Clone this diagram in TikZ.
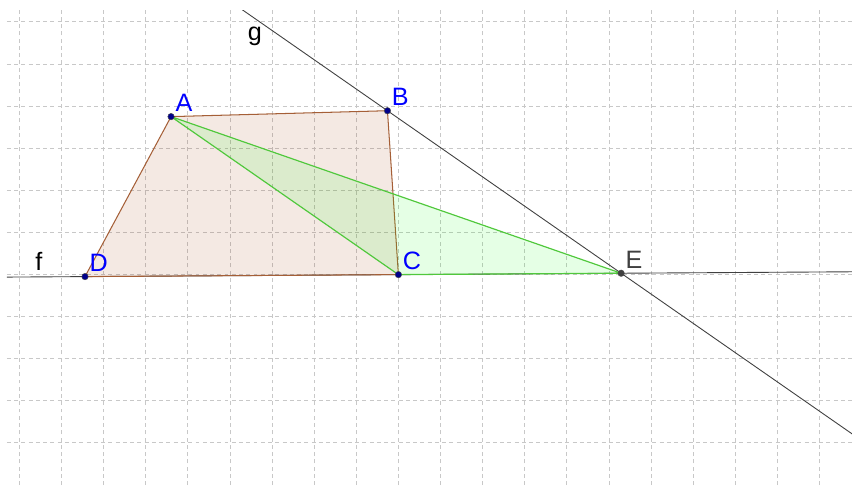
\documentclass[tikz,border=0pt]{standalone}
\usepackage{fontspec}
\setmainfont{Liberation Sans}
\usepackage{xcolor}
\usepackage{tikz}
\usetikzlibrary{positioning, calc}
\definecolor{quadbrown}{RGB}{153,51,0}
\definecolor{quadedge}{RGB}{165,95,55}
\definecolor{trigreen}{RGB}{0,255,0}
\definecolor{triedge}{RGB}{80,200,60}
\definecolor{ptblue}{RGB}{0,0,140}
\definecolor{lblblue}{RGB}{0,0,255}
\definecolor{gridgray}{RGB}{200,200,200}

\begin{document}
\begin{tikzpicture}[
    % 网格与直线
    gridline/.style={draw=gridgray, line width=0.55pt, dash pattern=on 2.7pt off 2.2pt},
    figline/.style={draw=black!75, line width=0.6pt},
    % 四边形与三角形
    quad/.style={fill=quadbrown, fill opacity=0.11, draw=quadedge, line width=0.7pt, line join=round},
    tri/.style={fill=trigreen, fill opacity=0.1, draw=triedge, line width=0.8pt, line join=round},
    % 点与标签
    dot/.style={circle, fill=ptblue, draw=black!70, line width=0.3pt, inner sep=0pt, minimum size=4.4pt},
    ptlabel/.style={inner sep=0pt, text=lblblue, font=\fontsize{17}{20}\selectfont},
    linelabel/.style={inner sep=0pt, anchor=base, font=\fontsize{17}{20}\selectfont}
]
\useasboundingbox (-0.463,-5.0) rectangle (19.774,6.520);

% 网格
\foreach \x in {0,...,19}
    \draw[gridline] (\x,-5.0) -- (\x,6.28);
\foreach \y in {-4,...,6}
    \draw[gridline] (-0.297,\y) -- (19.774,\y);

% 顶点
\coordinate (A) at (3.60,3.75);
\coordinate (B) at (8.74,3.89);
\coordinate (C) at (9.00,-0.003);
\coordinate (D) at (1.556,-0.05);
\coordinate (E) at (14.29,0.03);

% 直线 f, g
\begin{scope}
    \clip (-0.297,-5.0) rectangle (19.774,6.28);
    \draw[figline] ($(D)!-2!(E)$) -- ($(D)!2!(E)$);
    \draw[figline] ($(B)!-3!(E)$) -- ($(B)!3!(E)$);
\end{scope}

% 四边形 ABCD 与三角形 ACE
\filldraw[quad] (A) -- (B) -- (C) -- (D) -- cycle;
\filldraw[tri] (A) -- (C) -- (E) -- cycle;

% 点
\node[dot] (dA) at (A) {};
\node[dot] (dB) at (B) {};
\node[dot] (dC) at (C) {};
\node[dot] (dD) at (D) {};
\node[dot, fill=black!75] (dE) at (E) {};

% 标签
\node[ptlabel, above right=0.11cm and 0.10cm of dA.center] (labA) {A};
\node[ptlabel, above right=0.11cm and 0.10cm of dB.center] (labB) {B};
\node[ptlabel, above right=0.11cm and 0.10cm of dC.center] (labC) {C};
\node[ptlabel, above right=0.11cm and 0.10cm of dD.center] (labD) {D};
\node[ptlabel, text=black!75, above right=0.11cm and 0.10cm of dE.center] (labE) {E};
\node[linelabel] (labf) at (0.463,0.09) {f};
\node[linelabel] (labg) at (5.59,5.55) {g};

\end{tikzpicture}
\end{document}
